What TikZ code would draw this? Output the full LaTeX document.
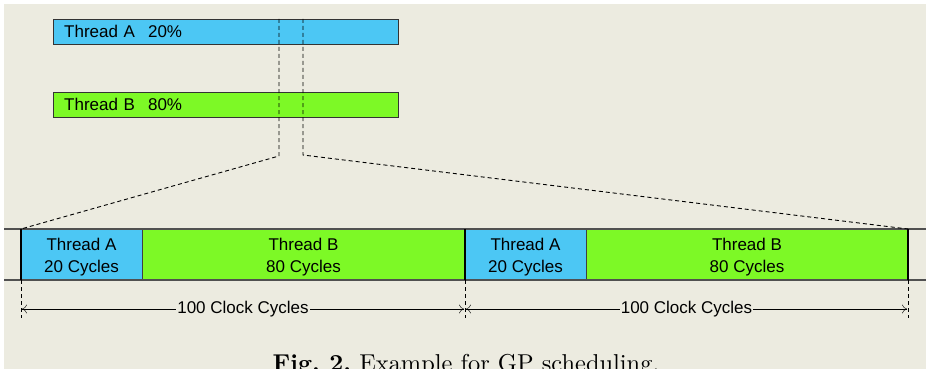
\documentclass[tikz,border=0pt]{standalone}
\usepackage{fontspec}
\newfontfamily\helv{Liberation Sans}
\usetikzlibrary{positioning,arrows.meta}
\definecolor{paper}{RGB}{236,235,224}
\definecolor{threada}{RGB}{76,199,244}
\definecolor{threadb}{RGB}{125,249,38}
\definecolor{railgray}{RGB}{80,80,80}
\frenchspacing

\begin{document}
\begin{tikzpicture}[x=1pt,y=-1pt,>={To[length=5pt,width=9pt]}]
\tikzset{bar/.style={draw=black!80,thin,anchor=north west,minimum height=25pt,text width=323pt,inner xsep=11pt,inner ysep=0pt,align=left,font=\helv\fontsize{17}{20}\selectfont}}
\tikzset{slot/.style={draw=black!75,thin,minimum height=51pt,inner sep=0pt,outer sep=0pt}}
\tikzset{slottext/.style={align=center,inner sep=0pt,font=\helv\fontsize{17}{22}\selectfont}}
\tikzset{zoomline/.style={dash pattern=on 4pt off 3pt,line width=0.9pt}}
\useasboundingbox (0,0) rectangle (926,369);
\fill[white] (0,0) rectangle (926,369);
\fill[paper] (4,4) rectangle (926,369);
% threads and their shares
\node[bar,fill=threada] (barA) at (53,19) {Thread A\hspace{13pt}20\%};
\node[bar,fill=threadb] (barB) at (53,92) {Thread B\hspace{13pt}80\%};
% time line
\node[slot,fill=threada,minimum width=121pt,anchor=north west] (s1) at (21,229) {};
\node[slot,fill=threadb,minimum width=323pt,right=0pt of s1] (s2) {};
\node[slot,fill=threada,minimum width=121pt,right=0pt of s2] (s3) {};
\node[slot,fill=threadb,minimum width=322pt,right=0pt of s3] (s4) {};
\node[slottext] (t1) at ([yshift=-3pt]s1.center) {Thread A\\20 Cycles};
\node[slottext] (t2) at ([yshift=-3pt]s2.center) {Thread B\\80 Cycles};
\node[slottext] (t3) at ([yshift=-3pt]s3.center) {Thread A\\20 Cycles};
\node[slottext] (t4) at ([yshift=-3pt]s4.center) {Thread B\\80 Cycles};
\coordinate (railtl) at (4,229);
\coordinate (railbl) at (4,280);
\draw[railgray,line width=1.2pt] (railtl) -- (railtl -| 926,0);
\draw[railgray,line width=1.2pt] (railbl) -- (railbl -| 926,0);
\foreach \s/\a in {s1/north west,s3/north west,s4/north east}
\draw[line width=2.5pt] (\s.\a) -- (\s.\a |- railbl);
% zoom lines
\coordinate (kl) at (279,156);
\coordinate (kr) at (303,155);
\draw[zoomline] (barA.north -| kl) -- (kl) -- (s1.north west);
\draw[zoomline] (barA.north -| kr) -- (kr) -- (s4.north east);
% period marks
\foreach \s/\a in {s1/south west,s3/south west,s4/south east}
\draw[zoomline] (\s.\a) -- ++(0,38);
\coordinate[below=29pt of s1.south west] (m1);
\coordinate[below=29pt of s3.south west] (m2);
\coordinate[below=29pt of s4.south east] (m3);
\draw[<->,shorten <=1pt,shorten >=1pt] (m1) -- node[fill=paper,inner xsep=1pt,inner ysep=0pt,font=\helv\fontsize{17}{20}\selectfont] (p1) {100 Clock Cycles} (m2);
\draw[<->,shorten <=1pt,shorten >=1pt] (m2) -- node[fill=paper,inner xsep=1pt,inner ysep=0pt,font=\helv\fontsize{17}{20}\selectfont] (p2) {100 Clock Cycles} (m3);
\node[anchor=base,inner sep=0pt] (caption) at (466,371) {\scalebox{2.44}{\fontsize{10}{12}\selectfont\textbf{Fig. 2.} Example for GP scheduling.}};
\end{tikzpicture}
\end{document}
